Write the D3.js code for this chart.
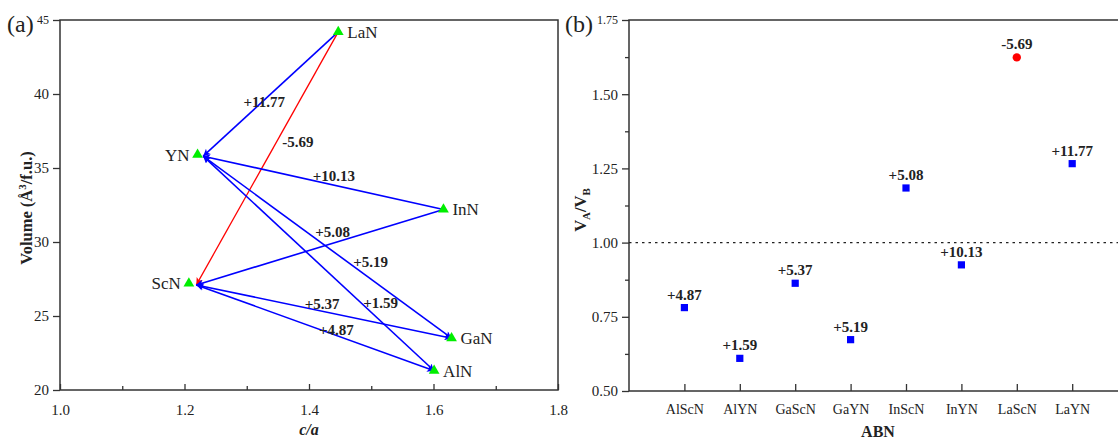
<!DOCTYPE html>
<html>
<head>
<meta charset="utf-8">
<script src="https://cdn.jsdelivr.net/npm/d3@7"></script>
<style>
body { margin: 0; background: #fff; }
text { font-family: "Liberation Serif", "Times New Roman", serif; fill: #222; }
</style>
</head>
<body>
<svg id="chart"></svg>
<script>
// panel (a): nodes in c/a - volume space
var nodeNames = ['LaN', 'YN', 'InN', 'ScN', 'GaN', 'AlN'];
var nodeCa = [1.447, 1.221, 1.616, 1.207, 1.629, 1.601];
var nodeVol = [44.2, 35.9, 32.2, 27.2, 23.5, 21.3];
var nodeSide = ['right', 'left', 'right', 'left', 'right', 'right'];

// arrows: from -> to, label, colour, double headed
var arrowFrom = ['LaN', 'LaN', 'InN', 'InN', 'GaN', 'GaN', 'AlN', 'AlN'];
var arrowTo = ['YN', 'ScN', 'YN', 'ScN', 'YN', 'ScN', 'YN', 'ScN'];
var arrowLabel = ['+11.77', '-5.69', '+10.13', '+5.08', '+5.19', '+5.37', '+1.59', '+4.87'];
var arrowRed = [false, true, false, false, false, false, false, false];
var arrowBoth = [false, false, false, false, true, true, true, true];
// label centres, in c/a and volume units
var labelCa = [1.328, 1.382, 1.440, 1.438, 1.499, 1.421, 1.515, 1.444];
var labelVol = [39.5, 36.8, 34.5, 30.7, 28.65, 25.85, 25.9, 24.1];
// where the arrow tips land next to YN and ScN
var tipCa = {'YN': 1.230, 'ScN': 1.219};
var tipVol = {'YN': 35.8, 'ScN': 27.1};

var caTicks = [1.0, 1.2, 1.4, 1.6, 1.8];
var caMinor = [1.1, 1.3, 1.5, 1.7];
var volTicks = [20, 25, 30, 35, 40, 45];

// panel (b)
var compounds = ['AlScN', 'AlYN', 'GaScN', 'GaYN', 'InScN', 'InYN', 'LaScN', 'LaYN'];
var ratio = [0.781, 0.61, 0.863, 0.673, 1.184, 0.925, 1.624, 1.266];
var change = ['+4.87', '+1.59', '+5.37', '+5.19', '+5.08', '+10.13', '-5.69', '+11.77'];
var ratioTicks = [0.50, 0.75, 1.00, 1.25, 1.50, 1.75];
var ratioMinor = [0.625, 0.875, 1.125, 1.375, 1.625];

var W = 1118, H = 440;
var svg = d3.select('#chart').attr('width', W).attr('height', H);
svg.append('rect').attr('width', W).attr('height', H).attr('fill', '#fff');

var defs = svg.append('defs');
function arrowMarker(id, color) {
    defs.append('marker')
        .attr('id', id)
        .attr('viewBox', '0 -5 10 10')
        .attr('refX', 10).attr('refY', 0)
        .attr('markerUnits', 'userSpaceOnUse')
        .attr('markerWidth', 9).attr('markerHeight', 7)
        .attr('orient', 'auto-start-reverse')
        .append('path')
        .attr('d', 'M0,-5L10,0L0,5L2.5,0Z')
        .attr('fill', color);
}
arrowMarker('headBlue', '#0000ff');
arrowMarker('headRed', '#ff0000');

var axisColor = '#333';

// ---------- panel (a) ----------
var xa = d3.scaleLinear().domain([1.0, 1.8]).range([60, 558]);
var ya = d3.scaleLinear().domain([20, 45]).range([390, 20]);
var ga = svg.append('g');

ga.append('rect')
    .attr('x', xa(1.0)).attr('y', ya(45))
    .attr('width', xa(1.8) - xa(1.0)).attr('height', ya(20) - ya(45))
    .attr('fill', 'none').attr('stroke', axisColor).attr('stroke-width', 1.5);

var xAxisA = ga.append('g').attr('transform', 'translate(0,' + ya(20) + ')')
    .call(d3.axisBottom(xa).tickValues(caTicks).tickSize(-6).tickPadding(14).tickFormat(d3.format('.1f')));
ga.append('g').attr('transform', 'translate(0,' + ya(20) + ')')
    .call(d3.axisBottom(xa).tickValues(caMinor).tickSize(-4).tickFormat(''));
var yAxisA = ga.append('g').attr('transform', 'translate(' + xa(1.0) + ',0)')
    .call(d3.axisLeft(ya).tickValues(volTicks).tickSize(7).tickPadding(4));

function styleAxis(sel) {
    sel.select('.domain').remove();
    sel.selectAll('line').attr('stroke', axisColor).attr('stroke-width', 1.3);
    sel.selectAll('text').attr('font-size', 15).attr('fill', '#333');
}
styleAxis(xAxisA);
styleAxis(yAxisA);
ga.selectAll('.domain').remove();
ga.selectAll('.tick line').attr('stroke', axisColor).attr('stroke-width', 1.3);
yAxisA.selectAll('.tick').filter(function(d) { return d == 45; })
    .select('text').attr('font-size', 12);

// arrows
function nodeIndex(name) { return nodeNames.indexOf(name); }
var arrows = arrowFrom.map(function(f, i) {
    var fi = nodeIndex(f), t = arrowTo[i];
    return {
        x1: xa(nodeCa[fi]), y1: ya(nodeVol[fi]),
        x2: xa(tipCa[t]), y2: ya(tipVol[t]),
        red: arrowRed[i], both: arrowBoth[i],
        label: arrowLabel[i], lx: xa(labelCa[i]), ly: ya(labelVol[i])
    };
});

ga.selectAll('.arrow')
    .data(arrows)
    .enter().append('line')
    .attr('class', 'arrow')
    .attr('x1', function(d) { return d.x1; })
    .attr('y1', function(d) { return d.y1; })
    .attr('x2', function(d) { return d.x2; })
    .attr('y2', function(d) { return d.y2; })
    .attr('stroke', function(d) { return d.red ? '#ff0000' : '#0000ff'; })
    .attr('stroke-width', function(d) { return d.red ? 1.3 : 1.6; })
    .attr('marker-end', function(d) { return d.red ? 'url(#headRed)' : 'url(#headBlue)'; })
    .attr('marker-start', function(d) { return d.both ? 'url(#headBlue)' : null; });

ga.selectAll('.arrow-label')
    .data(arrows)
    .enter().append('text')
    .attr('class', 'arrow-label')
    .attr('x', function(d) { return d.lx; })
    .attr('y', function(d) { return d.ly; })
    .attr('dy', '0.35em')
    .attr('text-anchor', 'middle')
    .attr('font-size', 15)
    .attr('font-weight', 'bold')
    .text(function(d) { return d.label; });

// nodes
var nodes = nodeNames.map(function(n, i) {
    return {name: n, x: xa(nodeCa[i]), y: ya(nodeVol[i]), side: nodeSide[i]};
});
ga.selectAll('.node')
    .data(nodes)
    .enter().append('path')
    .attr('class', 'node')
    .attr('transform', function(d) { return 'translate(' + d.x + ',' + d.y + ')'; })
    .attr('d', d3.symbol().type(d3.symbolTriangle).size(50))
    .attr('fill', '#00ee00');

ga.selectAll('.node-label')
    .data(nodes)
    .enter().append('text')
    .attr('class', 'node-label')
    .attr('x', function(d) { return d.side == 'right' ? d.x + 9 : d.x - 8; })
    .attr('y', function(d) { return d.y; })
    .attr('dy', '0.35em')
    .attr('text-anchor', function(d) { return d.side == 'right' ? 'start' : 'end'; })
    .attr('font-size', 17)
    .text(function(d) { return d.name; });

// titles
ga.append('text').attr('x', 7).attr('y', 32).attr('font-size', 24).text('(a)');
var ytA = ga.append('text')
    .attr('transform', 'translate(32,' + 208 + ') rotate(-90)')
    .attr('text-anchor', 'middle')
    .attr('font-size', 16.5).attr('font-weight', 'bold');
ytA.append('tspan').text('Volume (\u00C5');
ytA.append('tspan').attr('dy', -6).attr('font-size', 11).text('3');
ytA.append('tspan').attr('dy', 6).text('/f.u.)');
ga.append('text')
    .attr('x', (xa(1.0) + xa(1.8)) / 2).attr('y', 435)
    .attr('text-anchor', 'middle')
    .attr('font-size', 16).attr('font-weight', 'bold').attr('font-style', 'italic')
    .text('c/a');

// ---------- panel (b) ----------
var slots = [''].concat(compounds).concat([' ']);
var xb = d3.scalePoint().domain(slots).range([629, 629 + 9 * 55.4]);
var yb = d3.scaleLinear().domain([0.5, 1.75]).range([391, 20]);
var gb = svg.append('g');

var xRight = xb(' ');
gb.append('rect')
    .attr('x', xb('')).attr('y', yb(1.75))
    .attr('width', xRight - xb('')).attr('height', yb(0.5) - yb(1.75))
    .attr('fill', 'none').attr('stroke', axisColor).attr('stroke-width', 1.5);

var xAxisB = gb.append('g').attr('transform', 'translate(0,' + yb(0.5) + ')')
    .call(d3.axisBottom(xb).tickValues(compounds).tickSize(-7).tickPadding(13));
var yAxisB = gb.append('g').attr('transform', 'translate(' + xb('') + ',0)')
    .call(d3.axisLeft(yb).tickValues(ratioTicks).tickSize(7).tickPadding(4).tickFormat(d3.format('.2f')));
gb.append('g').attr('transform', 'translate(' + xb('') + ',0)')
    .call(d3.axisLeft(yb).tickValues(ratioMinor).tickSize(4).tickFormat(''));
styleAxis(xAxisB);
styleAxis(yAxisB);
xAxisB.selectAll('text').attr('font-size', 14);
gb.selectAll('.domain').remove();
gb.selectAll('.tick line').attr('stroke', axisColor).attr('stroke-width', 1.3);
yAxisB.selectAll('.tick').filter(function(d) { return d == 1.75; })
    .select('text').attr('font-size', 12);

// reference line at 1.00
gb.append('line')
    .attr('x1', xb('')).attr('x2', xRight)
    .attr('y1', yb(1.0)).attr('y2', yb(1.0))
    .attr('stroke', '#222').attr('stroke-width', 1.2)
    .attr('stroke-dasharray', '2.5,4');

var points = compounds.map(function(c, i) {
    return {name: c, x: xb(c), y: yb(ratio[i]), label: change[i], neg: change[i].charAt(0) == '-'};
});

gb.selectAll('.sq')
    .data(points.filter(function(d) { return !d.neg; }))
    .enter().append('rect')
    .attr('class', 'sq')
    .attr('x', function(d) { return d.x - 3.6; })
    .attr('y', function(d) { return d.y - 3.6; })
    .attr('width', 7.2).attr('height', 7.2)
    .attr('fill', '#0000ff');

gb.selectAll('.dot')
    .data(points.filter(function(d) { return d.neg; }))
    .enter().append('circle')
    .attr('class', 'dot')
    .attr('cx', function(d) { return d.x; })
    .attr('cy', function(d) { return d.y; })
    .attr('r', 4.2)
    .attr('fill', '#ff0000');

gb.selectAll('.pt-label')
    .data(points)
    .enter().append('text')
    .attr('class', 'pt-label')
    .attr('x', function(d) { return d.x; })
    .attr('y', function(d) { return d.y - 8; })
    .attr('text-anchor', 'middle')
    .attr('font-size', 15).attr('font-weight', 'bold')
    .text(function(d) { return d.label; });

gb.append('text').attr('x', 565).attr('y', 32).attr('font-size', 24).text('(b)');
var ytB = gb.append('text')
    .attr('transform', 'translate(586,' + 210 + ') rotate(-90)')
    .attr('text-anchor', 'middle')
    .attr('font-size', 16.5).attr('font-weight', 'bold');
ytB.append('tspan').text('V');
ytB.append('tspan').attr('dy', 4).attr('font-size', 11).text('A');
ytB.append('tspan').attr('dy', -4).text('/V');
ytB.append('tspan').attr('dy', 4).attr('font-size', 11).text('B');
gb.append('text')
    .attr('x', 878).attr('y', 437)
    .attr('text-anchor', 'middle')
    .attr('font-size', 16).attr('font-weight', 'bold')
    .text('ABN');
</script>
</body>
</html>
